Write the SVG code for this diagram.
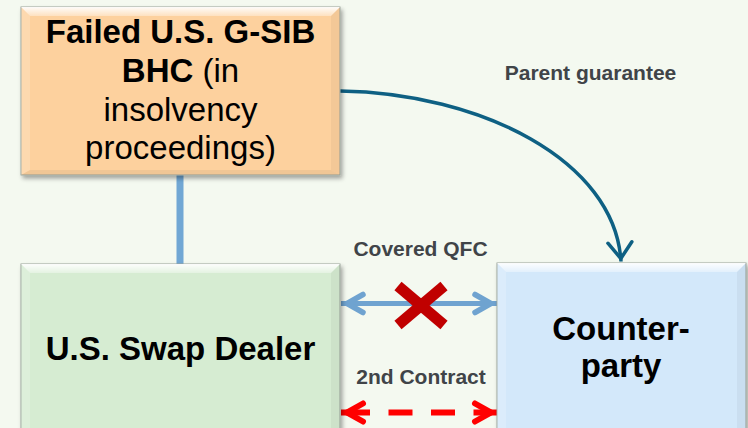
<svg xmlns="http://www.w3.org/2000/svg" width="748" height="428" viewBox="0 0 748 428">
  <defs>
    <style>
      .lbl { font-family: "Liberation Sans", Arial, sans-serif; font-weight: bold; font-size: 21px; fill: #404448; text-anchor: middle; }
      .box-t { font-family: "Liberation Sans", Arial, sans-serif; font-size: 33px; fill: #000; text-anchor: middle; }
      .b { font-weight: bold; }
      .frame { stroke: #9aa39a; stroke-width: 1; }
      .bevel-top { fill: url(#gTop); }
      .bevel-bot { fill: #000; opacity: 0.05; }
      .bevel-side { fill: #fff; opacity: 0.18; }
      .bevel-rside { fill: #000; opacity: 0.04; }
    </style>
    <filter id="shadow" x="-10%" y="-10%" width="130%" height="130%">
      <feDropShadow dx="2" dy="3" stdDeviation="2" flood-color="#000" flood-opacity="0.35"/>
    </filter>
    <linearGradient id="gTop" x1="0" y1="0" x2="0" y2="1">
      <stop offset="0" stop-color="#fff" stop-opacity="0.95"/>
      <stop offset="1" stop-color="#fff" stop-opacity="0.35"/>
    </linearGradient>
    <marker id="mBlue" markerUnits="userSpaceOnUse" markerWidth="40" markerHeight="40" viewBox="-30 -15 40 30" refX="0" refY="0" orient="auto-start-reverse" overflow="visible">
      <path d="M-22,-9 L-6,0 L-22,9" fill="none" stroke="#6fa3d0" stroke-width="5.5" stroke-linejoin="miter" stroke-linecap="round"/>
    </marker>
    <marker id="mRed" markerUnits="userSpaceOnUse" markerWidth="40" markerHeight="40" viewBox="-30 -15 40 30" refX="0" refY="0" orient="auto-start-reverse" overflow="visible">
      <path d="M-22,-9 L-6,0 L-22,9" fill="none" stroke="#ff0000" stroke-width="6" stroke-linejoin="miter" stroke-linecap="round"/>
    </marker>
    <marker id="mTeal" markerUnits="userSpaceOnUse" markerWidth="40" markerHeight="40" viewBox="-30 -15 40 30" refX="0" refY="0" orient="auto" overflow="visible">
      <path d="M-19,-12 L-3,0 L-19,12" fill="none" stroke="#0e6083" stroke-width="3.5" stroke-linejoin="miter" stroke-linecap="round"/>
    </marker>
  </defs>

  <rect x="0" y="0" width="748" height="428" fill="#f4f9f0"/>

  <g id="connectors">
    <line x1="180" y1="175" x2="180" y2="264" stroke="#71a7d4" stroke-width="7"/>
    <path d="M340,91 C480,93 615,160 621,261.5" fill="none" stroke="#0e6083" stroke-width="3.5" marker-end="url(#mTeal)"/>
    <line x1="341" y1="303.5" x2="497" y2="303.5" stroke="#6fa3d0" stroke-width="5" marker-start="url(#mBlue)" marker-end="url(#mBlue)"/>
    <line x1="346" y1="412.5" x2="492" y2="412.5" stroke="#ff0000" stroke-width="6" stroke-dasharray="24 18.5"/>
    <line x1="341" y1="412.5" x2="342" y2="412.5" stroke="none" marker-start="url(#mRed)"/>
    <line x1="496" y1="412.5" x2="497" y2="412.5" stroke="none" marker-end="url(#mRed)"/>
    <line x1="341" y1="412.5" x2="346" y2="412.5" stroke="#ff0000" stroke-width="6"/>
    <line x1="492" y1="412.5" x2="497" y2="412.5" stroke="#ff0000" stroke-width="6"/>
  </g>

  <g id="label-parent-guarantee">
    <text class="lbl" x="590.5" y="80">Parent guarantee</text>
  </g>
  <g id="label-covered-qfc">
    <text class="lbl" x="420.5" y="256">Covered QFC</text>
  </g>
  <g id="cross">
    <line x1="398" y1="286" x2="444" y2="325" stroke="#c00000" stroke-width="11"/>
    <line x1="444" y1="286" x2="398" y2="325" stroke="#c00000" stroke-width="11"/>
  </g>
  <g id="label-2nd-contract">
    <text class="lbl" x="421" y="384">2nd Contract</text>
  </g>

  <g id="node-bhc">
    <rect x="21" y="7" width="319" height="168" fill="#fdd19e" class="frame" filter="url(#shadow)"/>
    <polygon class="bevel-top" points="21,7 340,7 331,16 30,16"/>
    <polygon class="bevel-side" points="21,7 30,16 30,170 21,175"/>
    <polygon class="bevel-rside" points="340,7 331,16 331,170 340,175"/>
    <polygon class="bevel-bot" points="21,175 30,170 331,170 340,175"/>
    <text class="box-t" x="180.5" y="43"><tspan class="b">Failed U.S. G-SIB</tspan></text>
    <text class="box-t" x="180.5" y="82"><tspan class="b">BHC</tspan> (in</text>
    <text class="box-t" x="180.5" y="121">insolvency</text>
    <text class="box-t" x="180.5" y="159">proceedings)</text>
  </g>

  <g id="node-swap-dealer">
    <rect x="21" y="264" width="319" height="200" fill="#d6ecd2" class="frame" filter="url(#shadow)"/>
    <polygon class="bevel-top" points="21,264 340,264 331,273 30,273"/>
    <polygon class="bevel-side" points="21,264 30,273 30,428 21,428"/>
    <polygon class="bevel-rside" points="340,264 331,273 331,428 340,428"/>
    <text class="box-t b" x="180.5" y="360">U.S. Swap Dealer</text>
  </g>

  <g id="node-counterparty">
    <rect x="497" y="263" width="249" height="200" fill="#d3e8fa" class="frame" filter="url(#shadow)"/>
    <polygon class="bevel-top" points="497,263 746,263 737,272 506,272"/>
    <polygon class="bevel-side" points="497,263 506,272 506,428 497,428"/>
    <polygon class="bevel-rside" points="746,263 737,272 737,428 746,428"/>
    <text class="box-t b" x="621" y="340">Counter-</text>
    <text class="box-t b" x="621" y="377">party</text>
  </g>
</svg>
